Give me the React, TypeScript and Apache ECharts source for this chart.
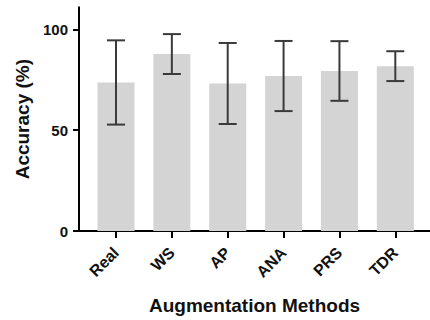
import React, { useEffect, useRef } from "react";
import * as echarts from "echarts";

const categories = ["Real", "WS", "AP", "ANA", "PRS", "TDR"];
const means = [73.7, 87.8, 73.2, 76.9, 79.4, 81.8];
const errors = [20.9, 9.9, 20.1, 17.4, 14.8, 7.4];
const yTicks = [0, 50, 100];

const FONT = "Liberation Sans, Arial, Helvetica, sans-serif";

export default function App() {
  const ref = useRef<HTMLDivElement>(null);
  useEffect(() => {
    if (!ref.current) return;
    const chart = echarts.init(ref.current, undefined, { renderer: "svg" });
    const idx = categories.map((_, i) => i);
    const barData = means.map((m, i) => [i, m]);
    const errData = means.map((m, i) => [i, m - errors[i], m + errors[i]]);
    chart.setOption({
      animation: false,
      grid: { left: 79, right: 0, top: 7.3, bottom: 84.5, containLabel: false },
      xAxis: {
        type: "value",
        min: -0.662,
        max: 5.621,
        splitLine: { show: false },
        axisLine: { show: true, onZero: false, lineStyle: { color: "#000", width: 2 } },
        axisTick: { show: true, customValues: idx, length: 7, lineStyle: { color: "#000", width: 2 } },
        axisLabel: {
          customValues: idx,
          rotate: 45,
          margin: 19,
          formatter: (v: number) => categories[Math.round(v)] ?? "",
          color: "#111",
          fontFamily: FONT,
          fontWeight: "bold",
          fontSize: 16,
        },
        name: "Augmentation Methods",
        nameLocation: "middle",
        nameGap: 65,
        nameTextStyle: { color: "#111", fontFamily: FONT, fontWeight: "bold", fontSize: 19 },
      },
      yAxis: {
        type: "value",
        min: 0,
        max: 111,
        splitLine: { show: false },
        axisLine: { show: true, onZero: false, lineStyle: { color: "#000", width: 2 } },
        axisTick: { show: true, customValues: yTicks, length: 6, lineStyle: { color: "#000", width: 2 } },
        axisLabel: {
          customValues: yTicks,
          margin: 11,
          color: "#111",
          fontFamily: FONT,
          fontWeight: "bold",
          fontSize: 15,
        },
        name: "Accuracy (%)",
        nameLocation: "middle",
        nameRotate: 90,
        nameGap: 44,
        nameTextStyle: { color: "#111", fontFamily: FONT, fontWeight: "bold", fontSize: 19 },
      },
      series: [
        {
          type: "bar",
          data: barData,
          barWidth: 37,
          itemStyle: { color: "#d4d4d4" },
        },
        {
          type: "custom",
          data: errData,
          encode: { x: 0, y: [1, 2] },
          z: 5,
          renderItem: (params: any, api: any) => {
            const x = api.value(0);
            const lo = api.coord([x, api.value(1)]);
            const hi = api.coord([x, api.value(2)]);
            const hw = 9;
            const style = { stroke: "#3a3a3a", lineWidth: 2 };
            return {
              type: "group",
              children: [
                { type: "line", shape: { x1: lo[0], y1: lo[1], x2: hi[0], y2: hi[1] }, style },
                { type: "line", shape: { x1: lo[0] - hw, y1: lo[1], x2: lo[0] + hw, y2: lo[1] }, style },
                { type: "line", shape: { x1: hi[0] - hw, y1: hi[1], x2: hi[0] + hw, y2: hi[1] }, style },
              ],
            };
          },
        },
      ],
    });
    return () => chart.dispose();
  }, []);
  return (
    <div
      ref={ref}
      style={{ position: "fixed", left: 0, top: 0, width: 430, height: 320, background: "#fff" }}
    />
  );
}
